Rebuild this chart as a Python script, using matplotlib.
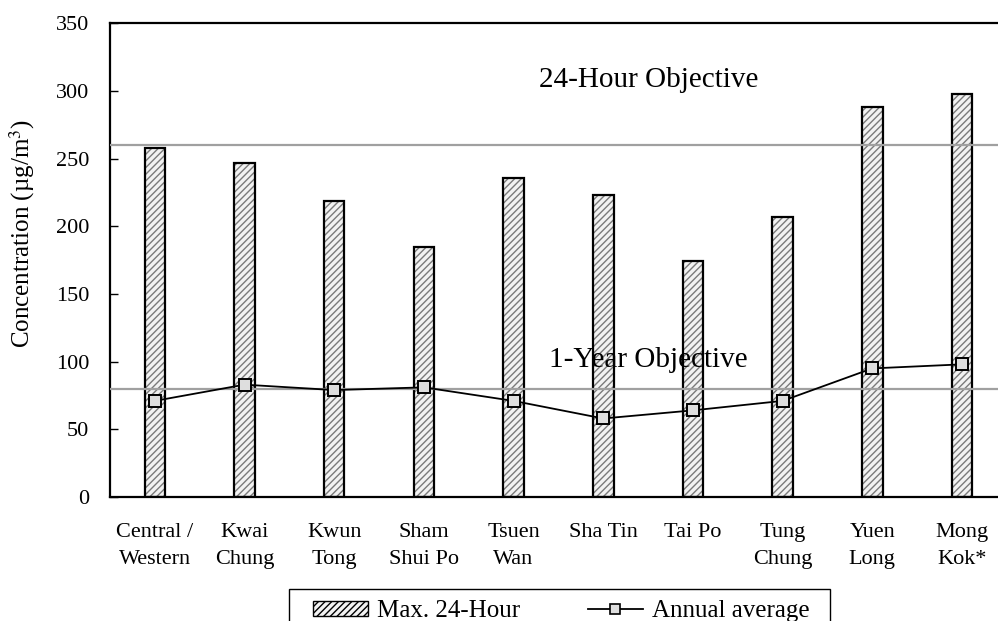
import matplotlib.pyplot as plt
import numpy as np
from matplotlib.patches import Patch, Rectangle
from matplotlib.lines import Line2D

plt.rcParams['font.family'] = ['Liberation Serif', 'DejaVu Serif']
plt.rcParams['mathtext.fontset'] = 'stix'

stations = ['Central /\nWestern', 'Kwai\nChung', 'Kwun\nTong', 'Sham\nShui Po', 'Tsuen\nWan',
            'Sha Tin', 'Tai Po', 'Tung\nChung', 'Yuen\nLong', 'Mong\nKok*']
max_24h = [258, 247, 219, 185, 236, 223, 174, 207, 288, 298]
annual_avg = [71, 83, 79, 81, 71, 58, 64, 71, 95, 98]
obj_24h = 260
obj_1yr = 80

fig = plt.figure(figsize=(9.98, 6.21), dpi=100)
ax = fig.add_axes([0.1102, 0.1997, 0.8986, 0.7628])

x = np.arange(len(stations))
# hatch layer, then black outline on top
ax.bar(x, max_24h, width=0.23, color='#f2f2f2', edgecolor='#7a7a7a', hatch='/////',
       linewidth=0, zorder=2)
ax.bar(x, max_24h, width=0.23, color='none', edgecolor='black', linewidth=1.6, zorder=3)

ax.axhline(obj_24h, color='#a0a0a0', linewidth=1.6, zorder=4)
ax.axhline(obj_1yr, color='#a0a0a0', linewidth=1.6, zorder=4)

ax.plot(x, annual_avg, color='black', linewidth=1.3, marker='s', markersize=8,
        markerfacecolor='#dedede', markeredgecolor='black', markeredgewidth=1.4, zorder=5)

ax.text(4.28, 308, '24-Hour Objective', fontsize=21, va='center', ha='left')
ax.text(4.40, 101, '1-Year Objective', fontsize=21, va='center', ha='left')

ax.set_xlim(-0.5, 9.5)
ax.set_ylim(0, 350)
ax.set_yticks(range(0, 351, 50))
ax.set_xticks(x)
ax.set_xticklabels(stations, fontsize=16, linespacing=1.55)
ax.tick_params(axis='x', length=0, pad=19)
ax.tick_params(axis='y', direction='in', length=6, width=1, labelsize=16, pad=15)

for side in ['left', 'top', 'bottom']:
    ax.spines[side].set_linewidth(1.6)
ax.spines['right'].set_visible(False)

ax.set_ylabel('Concentration (µg/m$^3$)', fontsize=18)
ax.yaxis.set_label_coords(-0.081, 0.557)

# legend: frameless entries plus a plain box that runs past the bottom edge
h_bar = Patch(facecolor='#f2f2f2', edgecolor='black', hatch='/////', linewidth=1.0)
h_line = Line2D([], [], color='black', linewidth=1.3, marker='s', markersize=7,
                markerfacecolor='#dedede', markeredgecolor='black', markeredgewidth=1.2)
fig.legend([h_bar, h_line], ['Max. 24-Hour', 'Annual average'], ncol=2,
           loc='upper left', bbox_to_anchor=((313 - 10) / 998, 1 - 590 / 621),
           fontsize=18, frameon=False, handlelength=2.2, handleheight=0.55,
           columnspacing=2.7, handletextpad=0.36, borderpad=0.4, borderaxespad=0)
fig.patches.append(Rectangle((289 / 998, -0.05), (830 - 289) / 998, 0.05 + 1 - 589 / 621,
                             transform=fig.transFigure, fill=False, edgecolor='black',
                             linewidth=1.0))

fig.savefig('out.png', dpi=100)
